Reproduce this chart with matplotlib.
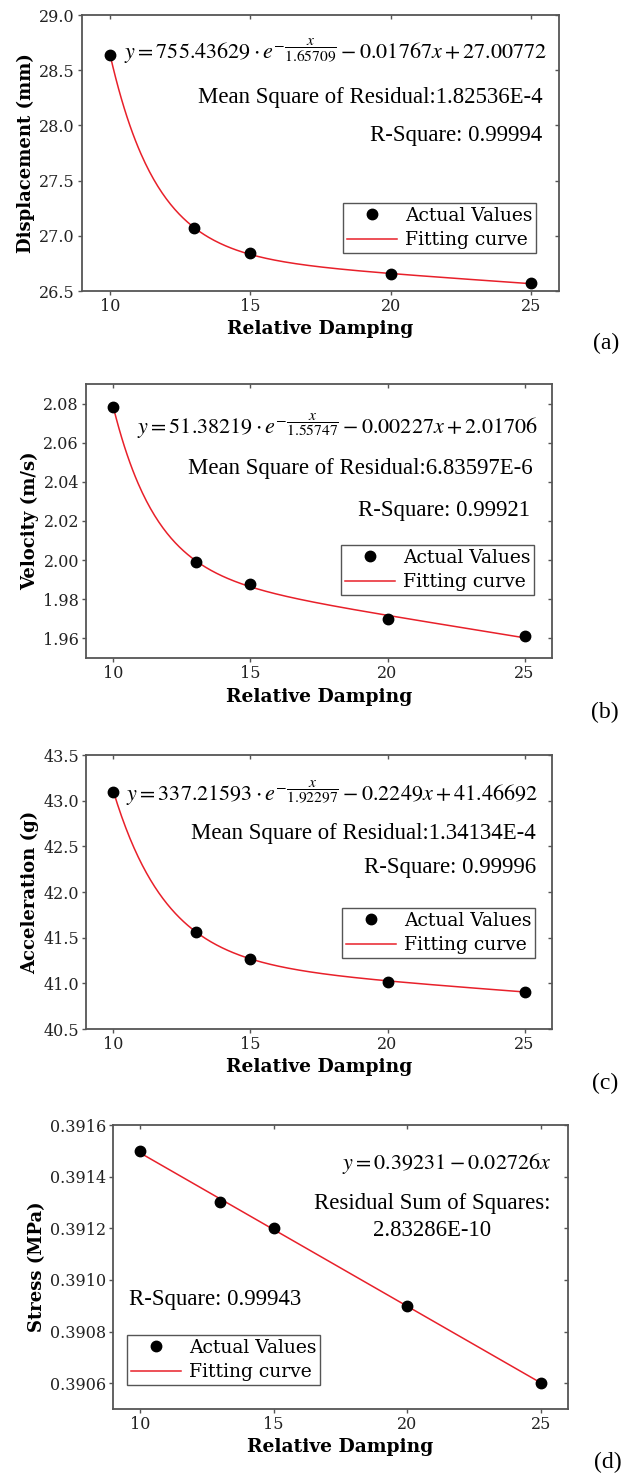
import matplotlib
matplotlib.use('Agg')
import matplotlib.pyplot as plt
import numpy as np

# data
damping = [10, 13, 15, 20, 25]
displacement = [28.64, 27.07, 26.84, 26.65, 26.57]
velocity = [2.078, 1.999, 1.988, 1.970, 1.961]
acceleration = [43.10, 41.56, 41.27, 41.02, 40.91]
stress = [0.3915, 0.3913, 0.3912, 0.3909, 0.3906]

# fit parameters as printed (a, t, k, c):  y = a*exp(-x/t) + k*x + c
fit_disp = [755.43629, 1.65709, -0.01767, 27.00772]
fit_vel = [51.38219, 1.55747, -0.00227, 2.01706]
fit_acc = [337.21593, 1.92297, -0.02249, 41.46692]  # printed slope is a typo (0.2249)

W, H = 636, 1474
plt.rcParams['mathtext.fontset'] = 'stix'
TICKFONT = 'DejaVu Serif'
TXTFONT = 'Liberation Serif'
RED = '#e8202a'
GREY = '#555555'
TXTSIZE = 16.4
EQSIZE = 15.9

fig = plt.figure(figsize=(W / 100, H / 100), dpi=100)


def fx(px):
    return px / W


def fy(py):
    return 1 - py / H


def make_axes(l, t, r, b, ylim, yticks, yfmt, ylabel):
    ax = fig.add_axes([fx(l), fy(b), fx(r) - fx(l), fy(t) - fy(b)])
    ax.set_xlim(9, 26)
    ax.set_ylim(*ylim)
    ax.set_xticks([10, 15, 20, 25])
    ax.set_yticks(yticks)
    ax.set_yticklabels([yfmt % v for v in yticks])
    ax.tick_params(direction='out', length=3, width=1, color=GREY, labelsize=11.5, pad=2)
    for lab in ax.get_xticklabels() + ax.get_yticklabels():
        lab.set_family(TICKFONT)
        lab.set_color('#222222')
    for s in ax.spines.values():
        s.set_color(GREY)
        s.set_linewidth(1.3)
    top = ax.secondary_xaxis('top')
    top.set_xticks([10, 15, 20, 25])
    top.tick_params(direction='in', length=3, width=1, color=GREY, labeltop=False)
    right = ax.secondary_yaxis('right')
    right.set_yticks(yticks)
    right.tick_params(direction='in', length=3, width=1, color=GREY, labelright=False)
    for s in list(top.spines.values()) + list(right.spines.values()):
        s.set_visible(False)
    ax.set_xlabel('Relative Damping', family=TICKFONT, fontweight='bold', fontsize=13.5, labelpad=4)
    ax.set_ylabel(ylabel, family=TICKFONT, fontweight='bold', fontsize=13, labelpad=3)
    return ax


def plot_series(ax, y, fit_y, xs):
    ax.plot(xs, fit_y, color=RED, linewidth=1.1, label='Fitting curve', zorder=2)
    ax.plot(damping, y, 'o', color='black', markersize=7.5, label='Actual Values', zorder=3)


def add_legend(ax, l, t):
    h, lab = ax.get_legend_handles_labels()
    leg = ax.legend(h[::-1], lab[::-1], loc='upper left', bbox_to_anchor=(fx(l), fy(t)),
                    bbox_transform=fig.transFigure, borderaxespad=0, fancybox=False,
                    edgecolor=GREY, framealpha=1, handlelength=2.7, numpoints=1,
                    prop={'family': TICKFONT, 'size': 13.5}, borderpad=0.2,
                    labelspacing=0.35, handletextpad=0.4)
    leg.get_frame().set_linewidth(1.0)


def txt(px, py, s, ha='right', size=TXTSIZE):
    fig.text(fx(px), fy(py), s, ha=ha, va='center', family=TXTFONT, fontsize=size, color='black')


def expfit(p, xs):
    return p[0] * np.exp(-xs / p[1]) + p[2] * xs + p[3]


xs = np.linspace(10, 25, 300)

# (a)
ax = make_axes(82, 15, 559, 291, (26.5, 29.0), np.arange(26.5, 29.01, 0.5), '%.1f', 'Displacement (mm)')
plot_series(ax, displacement, expfit(fit_disp, xs), xs)
add_legend(ax, 343, 203)
txt(547, 51, r'$y = 755.43629\cdot e^{-\dfrac{x}{1.65709}} - 0.01767x + 27.00772$', size=EQSIZE)
txt(543, 97, 'Mean Square of Residual:1.82536E-4')
txt(542, 135, 'R-Square: 0.99994')
txt(606, 343, '(a)', ha='center', size=17)

# (b)
ax = make_axes(86, 384, 552, 658, (1.95, 2.09), np.arange(1.96, 2.081, 0.02), '%.2f', 'Velocity (m/s)')
plot_series(ax, velocity, expfit(fit_vel, xs), xs)
add_legend(ax, 341, 545)
txt(538, 426, r'$y = 51.38219\cdot e^{-\dfrac{x}{1.55747}} - 0.00227x + 2.01706$', size=EQSIZE)
txt(533, 469, 'Mean Square of Residual:6.83597E-6')
txt(530, 511, 'R-Square: 0.99921')
txt(605, 712, '(b)', ha='center', size=17)

# (c)
ax = make_axes(86, 755, 552, 1029, (40.5, 43.5), np.arange(40.5, 43.51, 0.5), '%.1f', 'Acceleration (g)')
plot_series(ax, acceleration, expfit(fit_acc, xs), xs)
add_legend(ax, 342, 908)
txt(538, 793, r'$y = 337.21593\cdot e^{-\dfrac{x}{1.92297}} - 0.2249x + 41.46692$', size=EQSIZE)
txt(536, 833, 'Mean Square of Residual:1.34134E-4')
txt(536, 868, 'R-Square: 0.99996')
txt(605, 1083, '(c)', ha='center', size=17)

# (d) linear fit
ax = make_axes(113, 1125, 568, 1409, (0.3905, 0.3916), np.arange(0.3906, 0.39161, 0.0002), '%.4f', 'Stress (MPa)')
coef = np.polyfit(damping, stress, 1)
xl = np.array([10, 25])
plot_series(ax, stress, np.polyval(coef, xl), xl)
add_legend(ax, 127, 1335)
txt(551, 1163, r'$y = 0.39231 - 0.02726x$', size=EQSIZE)
txt(551, 1203, 'Residual Sum of Squares:')
txt(432, 1230, '2.83286E-10', ha='center')
txt(129, 1299, 'R-Square: 0.99943', ha='left')
txt(608, 1462, '(d)', ha='center', size=17)

fig.savefig('out.png', dpi=100)
